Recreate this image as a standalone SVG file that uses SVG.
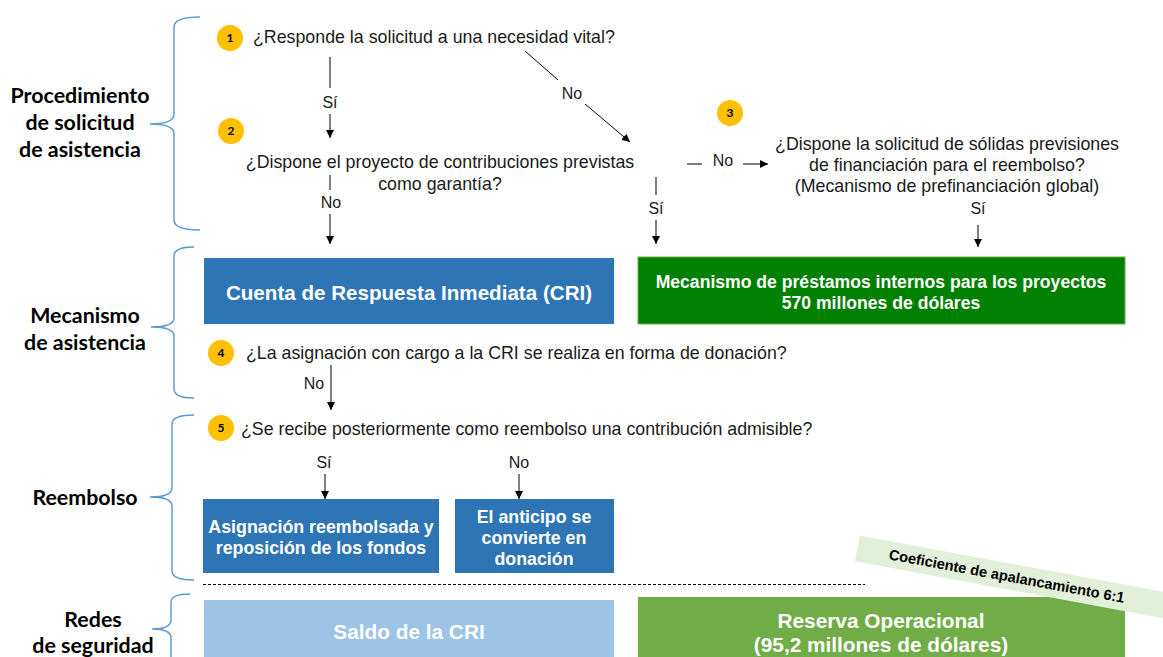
<svg xmlns="http://www.w3.org/2000/svg" width="1163" height="657" viewBox="0 0 1163 657">
<defs>
<marker id="ah" viewBox="0 0 10 10" refX="10" refY="5" markerWidth="8" markerHeight="8" markerUnits="userSpaceOnUse" orient="auto"><path d="M0,0 L10,5 L0,10 z" fill="#000"/></marker>
<style>
.sec{font-family:Lato,"Open Sans",sans-serif;font-weight:bold;font-size:21.4px;fill:#000;text-anchor:middle}
.q{font-family:"Liberation Sans",Arial,sans-serif;font-size:17.8px;fill:#1a1a1a}
.lbl{font-family:"Liberation Sans",Arial,sans-serif;font-size:16px;fill:#1a1a1a;text-anchor:middle}
.bt{font-family:"Liberation Sans",Arial,sans-serif;font-weight:bold;fill:#fff;text-anchor:middle}
.brace{fill:none;stroke:#5B9BD5;stroke-width:1.5}
.num circle{fill:#FFC000}
.num text{font-family:Lato,sans-serif;font-weight:bold;font-size:12px;fill:#000;text-anchor:middle}
.c{stroke:#000;stroke-width:1;fill:none}
.ca{stroke:#000;stroke-width:1;fill:none;marker-end:url(#ah)}
</style>
</defs>
<rect width="1163" height="657" fill="#fff"/>

<g id="sections">
<g id="sec1">
<path class="brace" d="M200,17 Q174,17 174,27 L174,114 Q174,124 150,124 Q174,124 174,134 L174,220 Q174,230 200,230"/>
<text class="sec" x="80" y="103">Procedimiento</text>
<text class="sec" x="80" y="130">de solicitud</text>
<text class="sec" x="80" y="157">de asistencia</text>
</g>
<g id="sec2">
<path class="brace" d="M194,247 Q174,247 174,256 L174,318 Q174,327 151,327 Q174,327 174,336 L174,389 Q174,398 194,398"/>
<text class="sec" x="85" y="323">Mecanismo</text>
<text class="sec" x="85" y="350">de asistencia</text>
</g>
<g id="sec3">
<path class="brace" d="M194,415 Q172,415 172,424 L172,488 Q172,497 150,497 Q172,497 172,506 L172,571 Q172,580 194,580"/>
<text class="sec" x="85" y="505">Reembolso</text>
</g>
<g id="sec4">
<path class="brace" d="M190,594 Q171,594 171,602 L171,620 Q171,629 152,629 Q171,629 171,638 L171,660"/>
<text class="sec" x="93" y="627">Redes</text>
<text class="sec" x="93" y="653">de seguridad</text>
</g>
</g>

<g id="q1">
<g class="num"><circle cx="230" cy="38" r="13"/><text x="230" y="42">1</text></g>
<text class="q" x="253" y="43">¿Responde la solicitud a una necesidad vital?</text>
</g>
<g id="q2">
<g class="num"><circle cx="231" cy="131" r="13"/><text x="231" y="135">2</text></g>
<text class="q" x="440" y="168" text-anchor="middle">¿Dispone el proyecto de contribuciones previstas</text>
<text class="q" x="440" y="190" text-anchor="middle">como garantía?</text>
</g>
<g id="q3">
<g class="num"><circle cx="730" cy="113" r="13"/><text x="730" y="117">3</text></g>
<text class="q" x="947" y="150" text-anchor="middle">¿Dispone la solicitud de sólidas previsiones</text>
<text class="q" x="947" y="171" text-anchor="middle">de financiación para el reembolso?</text>
<text class="q" x="947" y="192" text-anchor="middle">(Mecanismo de prefinanciación global)</text>
</g>
<g id="q4">
<g class="num"><circle cx="221" cy="353" r="13"/><text x="221" y="357">4</text></g>
<text class="q" x="246" y="359">¿La asignación con cargo a la CRI se realiza en forma de donación?</text>
</g>
<g id="q5">
<g class="num"><circle cx="221" cy="428" r="13"/><text x="221" y="432">5</text></g>
<text class="q" x="241" y="435">¿Se recibe posteriormente como reembolso una contribución admisible?</text>
</g>

<g id="cri">
<rect x="204" y="258" width="410" height="66" fill="#2E75B6"/>
<text class="bt" x="409" y="300" font-size="20.6">Cuenta de Respuesta Inmediata (CRI)</text>
</g>
<g id="mpi">
<rect x="638" y="257" width="487" height="67" fill="#008000" stroke="#70AD47" stroke-width="1"/>
<text class="bt" x="881" y="288" font-size="17.6">Mecanismo de préstamos internos para los proyectos</text>
<text class="bt" x="881" y="309" font-size="17.6">570 millones de dólares</text>
</g>
<g id="reemb">
<rect x="203" y="499" width="236" height="74" fill="#2E75B6"/>
<text class="bt" x="321" y="533" font-size="17.8">Asignación reembolsada y</text>
<text class="bt" x="321" y="554" font-size="17.8">reposición de los fondos</text>
</g>
<g id="anticipo">
<rect x="455" y="499" width="159" height="74" fill="#2E75B6"/>
<text class="bt" x="534" y="523" font-size="17.8">El anticipo se</text>
<text class="bt" x="534" y="544" font-size="17.8">convierte en</text>
<text class="bt" x="534" y="565" font-size="17.8">donación</text>
</g>
<g id="saldo">
<rect x="204" y="600" width="410" height="60" fill="#9DC3E6"/>
<text class="bt" x="409" y="639" font-size="20.8">Saldo de la CRI</text>
</g>
<g id="reserva">
<rect x="638" y="597" width="487" height="63" fill="#70AD47"/>
<text class="bt" x="881" y="628" font-size="20.8">Reserva Operacional</text>
<text class="bt" x="881" y="652" font-size="20.8">(95,2 millones de dólares)</text>
</g>
<g id="coef" transform="rotate(10.5 1006 580)">
<rect x="854" y="563" width="380" height="26" fill="#E2F0D9"/>
<text x="1006" y="581" font-family="Liberation Sans, Arial, sans-serif" font-weight="bold" font-size="14.6" text-anchor="middle" fill="#000">Coeficiente de apalancamiento 6:1</text>
</g>

<g id="connectors">
<line class="c" x1="330" y1="57" x2="330" y2="88"/>
<text class="lbl" x="330" y="108">Sí</text>
<line class="ca" x1="330" y1="114" x2="330" y2="138"/>

<line class="c" x1="525" y1="51" x2="558" y2="80"/>
<text class="lbl" x="572" y="99">No</text>
<line class="ca" x1="585" y1="104" x2="630" y2="142"/>

<line class="c" x1="330" y1="175" x2="330" y2="190"/>
<text class="lbl" x="331" y="208">No</text>
<line class="ca" x1="330" y1="214" x2="330" y2="244"/>

<line class="c" x1="656" y1="177" x2="656" y2="195"/>
<text class="lbl" x="656" y="214">Sí</text>
<line class="ca" x1="656" y1="220" x2="656" y2="244"/>

<line class="c" x1="687" y1="164" x2="702" y2="164"/>
<text class="lbl" x="723" y="166">No</text>
<line class="ca" x1="743" y1="164" x2="768" y2="164"/>

<text class="lbl" x="978" y="214" font-size="14">Sí</text>
<line class="ca" x1="978" y1="225" x2="978" y2="247"/>

<text class="lbl" x="314" y="389">No</text>
<line class="ca" x1="331" y1="365" x2="331" y2="410"/>

<text class="lbl" x="324" y="468">Sí</text>
<line class="ca" x1="325" y1="474" x2="325" y2="499"/>
<text class="lbl" x="519" y="468">No</text>
<line class="ca" x1="519" y1="474" x2="519" y2="499"/>

<line x1="203" y1="584.5" x2="865" y2="584.5" stroke="#000" stroke-width="1" stroke-dasharray="3,2"/>
</g>
</svg>
